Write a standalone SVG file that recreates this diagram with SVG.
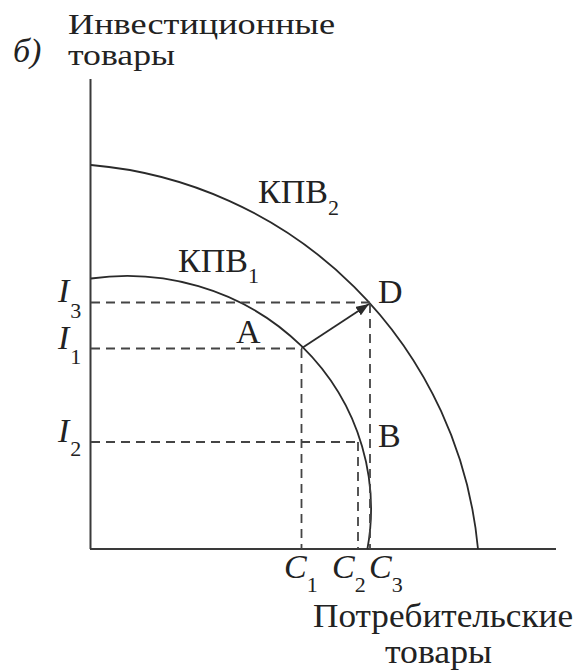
<svg xmlns="http://www.w3.org/2000/svg" width="584" height="672" viewBox="0 0 584 672">
<style>
.t{font-family:"Liberation Serif","Times New Roman",serif;fill:#222;}
.it{font-style:italic;}
.big{font-size:34px;}
.hd{font-size:30px;}
.sub{font-size:22px;font-style:normal;}
.axis{stroke:#3a3a3a;stroke-width:2;fill:none;}
.curve{stroke:#2a2a2a;stroke-width:1.8;fill:none;}
.dash{stroke:#444;stroke-width:1.8;fill:none;stroke-dasharray:9,6;}
.arrow{stroke:#2a2a2a;stroke-width:1.8;fill:none;}
</style>
<defs>
<marker id="ah" markerUnits="userSpaceOnUse" markerWidth="14" markerHeight="10" refX="13" refY="5" orient="auto">
<path d="M0,0 L13,5 L0,10 Z" fill="#2a2a2a"/>
</marker>
</defs>
<rect width="584" height="672" fill="#fff"/>
<g id="axes">
<line class="axis" x1="90.5" y1="79" x2="90.5" y2="549"/>
<line class="axis" x1="90" y1="549" x2="556" y2="549"/>
</g>
<g id="ppf2"><path class="curve" d="M91,165 A425,425 0 0,1 478,549"/></g>
<g id="ppf1"><path class="curve" d="M91,278.5 A244,233 0 0,1 367.4,549"/></g>
<g id="connectors">
<line class="dash" x1="91" y1="302.5" x2="370" y2="302.5"/>
<line class="dash" x1="91" y1="348.5" x2="302" y2="348.5"/>
<line class="dash" x1="91" y1="442" x2="360" y2="442"/>
<line class="dash" x1="301.5" y1="349" x2="301.5" y2="549"/>
<line class="dash" x1="358" y1="442" x2="358" y2="549"/>
<line class="dash" x1="370" y1="304" x2="370" y2="549"/>
<line class="arrow" x1="302" y1="348" x2="369" y2="304" marker-end="url(#ah)"/>
</g>
<g id="labels">
<text class="t it big" x="13" y="62">б)</text>
<text class="t hd"><tspan x="68" y="34" textLength="267" lengthAdjust="spacingAndGlyphs">Инвестиционные</tspan><tspan x="68" y="65" textLength="107" lengthAdjust="spacingAndGlyphs">товары</tspan></text>
<text class="t big"><tspan x="313" y="627" textLength="260" lengthAdjust="spacingAndGlyphs">Потребительские</tspan><tspan x="385" y="663" textLength="107" lengthAdjust="spacingAndGlyphs">товары</tspan></text>
<text class="t big" x="258" y="203">КПВ<tspan class="sub" dy="12">2</tspan></text>
<text class="t big" x="178" y="272">КПВ<tspan class="sub" dy="11">1</tspan></text>
<text class="t big" x="236" y="343">A</text>
<text class="t big" x="378" y="303">D</text>
<text class="t big" x="378" y="447">B</text>
<text class="t it big" x="58" y="302">I<tspan class="sub" dx="1" dy="16">3</tspan></text>
<text class="t it big" x="58" y="349">I<tspan class="sub" dx="1" dy="15">1</tspan></text>
<text class="t it big" x="58" y="442">I<tspan class="sub" dx="1" dy="14">2</tspan></text>
<text class="t it big" x="284" y="578">C<tspan class="sub" dy="14">1</tspan></text>
<text class="t it big" x="332" y="578">C<tspan class="sub" dy="14">2</tspan></text>
<text class="t it big" x="369" y="578">C<tspan class="sub" dy="14">3</tspan></text>
</g>
</svg>
